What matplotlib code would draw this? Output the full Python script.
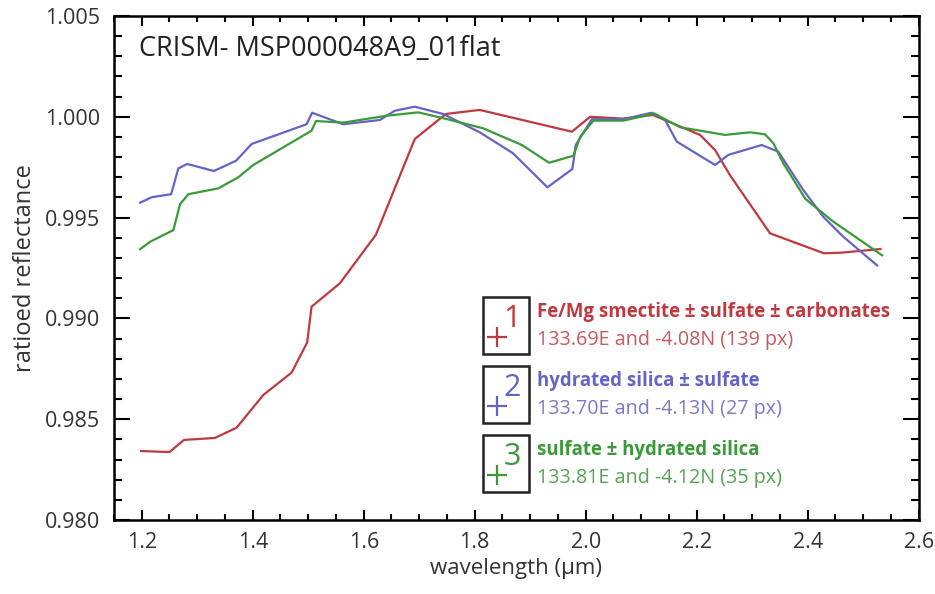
import matplotlib
matplotlib.use("Agg")
import matplotlib.pyplot as plt
from matplotlib.lines import Line2D
from matplotlib.patches import Rectangle
from matplotlib.ticker import MultipleLocator

plt.rcParams["font.family"] = ["Open Sans", "DejaVu Sans"]

red_x = [1.199, 1.250, 1.276, 1.332, 1.371, 1.419, 1.470, 1.498, 1.506, 1.557,
         1.622, 1.692, 1.748, 1.809, 1.975, 2.008, 2.067, 2.121, 2.206, 2.233,
         2.260, 2.332, 2.429, 2.461, 2.531]
red_y = [0.98342, 0.98337, 0.98397, 0.98407, 0.98458, 0.98620, 0.98731, 0.98880,
         0.99058, 0.99174, 0.99415, 0.99890, 1.00014, 1.00034, 0.99926, 1.00000,
         0.99991, 1.00009, 0.99910, 0.99835, 0.99710, 0.99422, 0.99323, 0.99326,
         0.99344]

blue_x = [1.197, 1.218, 1.253, 1.266, 1.282, 1.330, 1.370, 1.398, 1.497, 1.507,
          1.563, 1.629, 1.656, 1.692, 1.743, 1.809, 1.869, 1.931, 1.976, 1.982,
          2.011, 2.068, 2.119, 2.143, 2.164, 2.233, 2.257, 2.317, 2.347, 2.392,
          2.428, 2.464, 2.525]
blue_y = [0.99574, 0.99601, 0.99616, 0.99744, 0.99766, 0.99731, 0.99782, 0.99865,
          0.99963, 1.00020, 0.99963, 0.99984, 1.00030, 1.00050, 1.00014, 0.99923,
          0.99819, 0.99650, 0.99741, 0.99860, 0.99988, 0.99988, 1.00020, 0.99984,
          0.99877, 0.99761, 0.99811, 0.99860, 0.99827, 0.99637, 0.99504, 0.99405,
          0.99263]

green_x = [1.197, 1.215, 1.257, 1.269, 1.284, 1.338, 1.374, 1.401, 1.506, 1.514,
           1.563, 1.641, 1.698, 1.743, 1.815, 1.885, 1.934, 1.978, 1.990, 2.014,
           2.068, 2.124, 2.170, 2.251, 2.296, 2.323, 2.338, 2.356, 2.396, 2.446,
           2.534]
green_y = [0.99343, 0.99380, 0.99438, 0.99566, 0.99616, 0.99645, 0.99700, 0.99761,
           0.99931, 0.99979, 0.99971, 1.00005, 1.00022, 0.99993, 0.99943, 0.99860,
           0.99772, 0.99807, 0.99901, 0.99981, 0.99981, 1.00016, 0.99948, 0.99910,
           0.99923, 0.99913, 0.99869, 0.99769, 0.99592, 0.99480, 0.99313]

labels = ["Fe/Mg smectite ± sulfate ± carbonates",
          "hydrated silica ± sulfate",
          "sulfate ± hydrated silica"]
coords = ["133.69E and -4.08N (139 px)",
          "133.70E and -4.13N (27 px)",
          "133.81E and -4.12N (35 px)"]
colors = ["#c0393f", "#6464c8", "#3a9a3a"]
sub_colors = ["#c85a60", "#7a7ac8", "#55a455"]

fig = plt.figure(figsize=(9.35, 5.94), dpi=100)
ax = fig.add_axes([0.1219, 0.1246, 0.8607, 0.8485])

for xs, ys, c in ((red_x, red_y, colors[0]), (blue_x, blue_y, colors[1]),
                  (green_x, green_y, colors[2])):
    ax.plot(xs, ys, color=c, lw=1.6)

ax.set_xlim(1.15, 2.6)
ax.set_ylim(0.980, 1.005)
ax.xaxis.set_major_locator(MultipleLocator(0.2))
ax.xaxis.set_minor_locator(MultipleLocator(0.05))
ax.yaxis.set_major_locator(MultipleLocator(0.005))
ax.yaxis.set_minor_locator(MultipleLocator(0.001))
ax.xaxis.set_major_formatter(lambda v, p: f"{v:.1f}")
ax.yaxis.set_major_formatter(lambda v, p: f"{v:.3f}")
ax.tick_params(which="both", direction="in", top=True, right=True,
               width=1.5, colors="black", labelcolor="#333333", labelsize=15.5)
ax.tick_params(axis="x", which="major", length=7, pad=9)
ax.tick_params(axis="x", which="minor", length=4.5)
ax.tick_params(axis="y", which="major", length=11.5, pad=10)
ax.tick_params(axis="y", which="minor", length=6)
for s in ax.spines.values():
    s.set_linewidth(1.8)

ax.set_xlabel("wavelength (µm)", fontsize=16, color="#333333", labelpad=3)
ax.set_ylabel("ratioed reflectance", fontsize=17, color="#333333", labelpad=6)
ax.text(0.031, 0.935, "CRISM- MSP000048A9_01flat", transform=ax.transAxes,
        fontsize=19.5, color="#222222", va="center", ha="left")

# legende mit kaestchen
W, H = 935, 594
box_tops = [297, 366, 435]
for i in range(3):
    top = box_tops[i]
    fig.add_artist(Rectangle((483 / W, 1 - (top + 57) / H), 46 / W, 57 / H,
                             transform=fig.transFigure, fill=False,
                             ec="#222222", lw=1.8))
    fig.add_artist(Line2D([497 / W], [1 - (top + 40) / H], transform=fig.transFigure,
                          marker="+", ms=15, mew=1.6, color=colors[i], ls="none"))
    fig.text(512 / W, 1 - (top + 22) / H, str(i + 1), color=colors[i],
             fontsize=22, ha="center", va="center")
    fig.text(537 / W, 1 - (top + 15) / H, labels[i], color=colors[i],
             fontsize=13.4, fontweight="bold", ha="left", va="center")
    fig.text(537 / W, 1 - (top + 43) / H, coords[i], color=sub_colors[i],
             fontsize=14.2, ha="left", va="center")

fig.savefig("out.png", dpi=100)
